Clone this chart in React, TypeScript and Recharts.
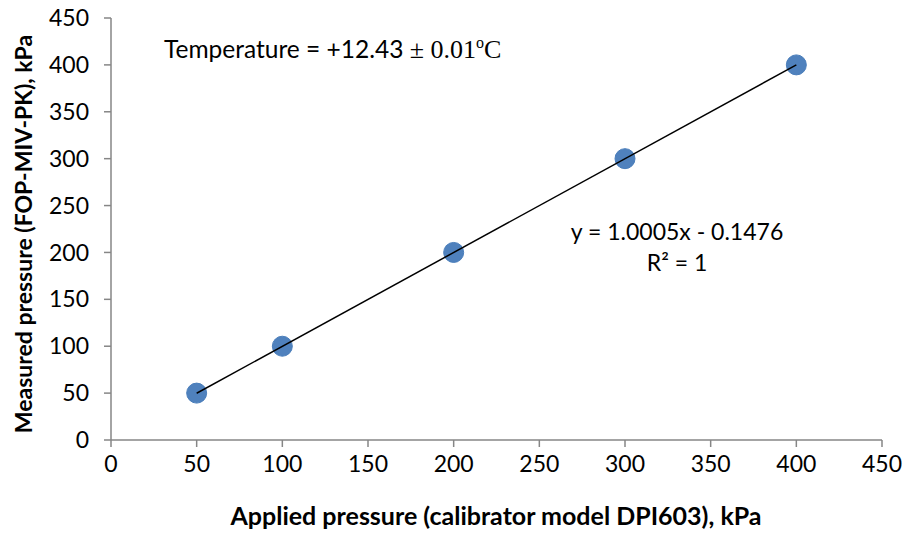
import { ScatterChart, Scatter, XAxis, YAxis } from "recharts";

// calibration points, kPa
const appliedKPa = [50, 100, 200, 300, 400];
const measuredKPa = [50, 100, 200, 300, 400];
const axisTicks = [0, 50, 100, 150, 200, 250, 300, 350, 400, 450];

// linear trendline shown on the chart
const fitSlope = 1.0005;
const fitIntercept = -0.1476;
const fitRange = [50, 400];

const points = appliedKPa.map((x, i) => ({ x, y: measuredKPa[i] }));
const trend = fitRange.map((x) => ({ x, y: fitSlope * x + fitIntercept }));

const FONT = "Lato, 'Open Sans', sans-serif";
const AXIS_GREY = "#868686";

const tickStyle = { fill: "#000", fontSize: 23, fontFamily: FONT };

const Dot = (props: any) => (
  <circle cx={props.cx} cy={props.cy} r={10} fill="#4F81BD" stroke="#4A7EBB" strokeWidth={1} />
);

export default function App() {
  return (
    <div style={{ position: "absolute", left: 0, top: 0, width: 908, height: 538, background: "#fff", fontFamily: FONT }}>
      <ScatterChart width={908} height={538} margin={{ top: 18, right: 26, bottom: 0, left: 0 }}>
        <XAxis
          type="number"
          dataKey="x"
          domain={[0, 450]}
          ticks={axisTicks}
          interval={0}
          height={98}
          tickSize={7}
          tickMargin={9}
          tick={tickStyle}
          stroke={AXIS_GREY}
          strokeWidth={1.5}
        />
        <YAxis
          type="number"
          dataKey="y"
          domain={[0, 450]}
          ticks={axisTicks}
          interval={0}
          width={111}
          tickSize={7}
          tickMargin={15}
          tick={tickStyle}
          stroke={AXIS_GREY}
          strokeWidth={1.5}
        />
        <Scatter data={points} shape={Dot} isAnimationActive={false} />
        <Scatter
          data={trend}
          line={{ stroke: "#000", strokeWidth: 1.5 }}
          shape={() => <g />}
          isAnimationActive={false}
        />
      </ScatterChart>

      <div style={{ position: "absolute", left: 164, top: 34, fontSize: 24.5, whiteSpace: "nowrap", color: "#000" }}>
        Temperature = +12.43{" "}
        <span style={{ fontFamily: "'Liberation Serif', 'DejaVu Serif', serif", fontSize: 26 }}>
          ± 0.01<sup style={{ fontSize: 16 }}>o</sup>C
        </span>
      </div>

      <div style={{ position: "absolute", left: 677, top: 216, transform: "translateX(-50%)", fontSize: 23, textAlign: "center", lineHeight: "31px", whiteSpace: "nowrap", color: "#000" }}>
        y = 1.0005x - 0.1476
        <br />
        R² = 1
      </div>

      <div style={{ position: "absolute", left: 496, top: 500, transform: "translateX(-50%)", fontSize: 25, fontWeight: 700, whiteSpace: "nowrap", color: "#000" }}>
        Applied pressure (calibrator model DPI603), kPa
      </div>

      <div style={{ position: "absolute", left: 23, top: 234, transform: "translate(-50%, -50%) rotate(-90deg)", fontSize: 23, fontWeight: 700, whiteSpace: "nowrap", color: "#000" }}>
        Measured pressure (FOP-MIV-PK), kPa
      </div>
    </div>
  );
}
